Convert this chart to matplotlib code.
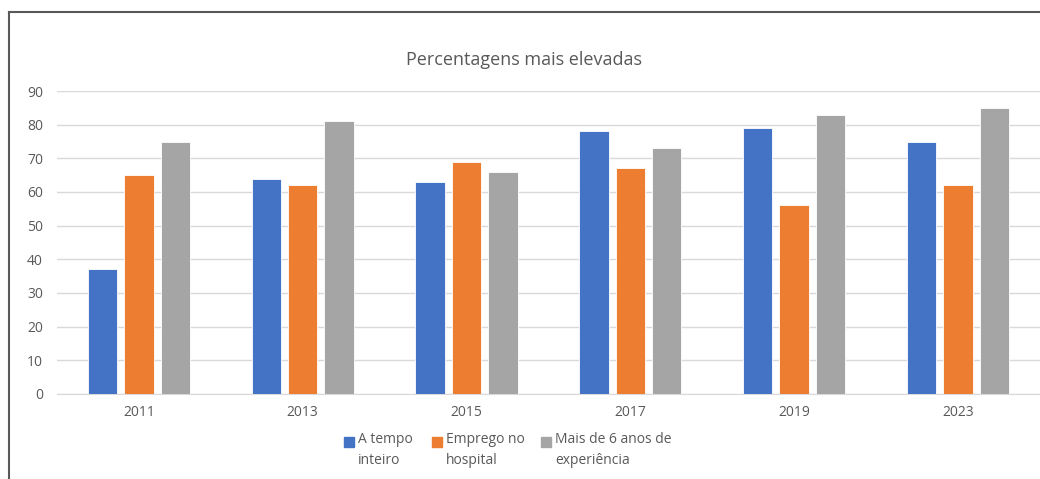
import numpy as np
import matplotlib.pyplot as plt
from matplotlib.lines import Line2D

# anos e percentagens
years = ['2011', '2013', '2015', '2017', '2019', '2023']
tempo_inteiro = [37, 64, 63, 78, 79, 75]
emprego_hospital = [65, 62, 69, 67, 56, 62]
mais_6_anos = [75, 81, 66, 73, 83, 85]
labels = ['A tempo\ninteiro', 'Emprego no\nhospital', 'Mais de 6 anos de\nexperiência']
colors = ['#4472C4', '#ED7D31', '#A5A5A5']

plt.rcParams['font.family'] = ['Open Sans', 'DejaVu Sans']

W, H = 1040, 479
fig = plt.figure(figsize=(W / 100, H / 100), dpi=100)
ax = fig.add_axes([0.0548, 0.1775, 0.945, 0.6325])

x = np.arange(len(years))
width = 0.18
step = 0.222
series = [tempo_inteiro, emprego_hospital, mais_6_anos]
for i, vals in enumerate(series):
    ax.bar(x + (i - 1) * step, vals, width, color=colors[i],
           edgecolor='white', linewidth=0.6, zorder=3, label=labels[i])

ax.set_xlim(-0.5, 5.5)
ax.set_ylim(0, 90)
ax.set_yticks(range(0, 91, 10))
ax.set_xticks(x)
ax.set_xticklabels(years)
ax.grid(axis='y', color='#D9D9D9', linewidth=1, zorder=0)
for s in ['top', 'right', 'left']:
    ax.spines[s].set_visible(False)
ax.spines['bottom'].set_color('#D9D9D9')
ax.tick_params(axis='both', length=0, colors='#595959', labelsize=10)
ax.tick_params(axis='x', pad=8)
ax.tick_params(axis='y', pad=10)

fig.text(0.504, 0.875, 'Percentagens mais elevadas', ha='center', va='center',
         fontsize=13, color='#595959')

# legenda desenhada a mao (texto em duas linhas, quadrado alinhado com a primeira)
leg_x = [349, 437, 546]
leg_y = 442
for lx, lab, c in zip(leg_x, labels, colors):
    fig.add_artist(Line2D([lx / W], [1 - leg_y / H], marker='s', markersize=7,
                          linestyle='', color=c, transform=fig.transFigure))
    fig.text((lx + 9) / W, 1 - (leg_y - 10) / H, lab, ha='left', va='top',
             fontsize=10, color='#595959', linespacing=1.5)

# moldura do grafico
fig.add_artist(Line2D([0.009, 0.009], [0, 0.975], color='#595959', linewidth=1.5,
                      transform=fig.transFigure))
fig.add_artist(Line2D([0.009, 1.0], [0.975, 0.975], color='#595959', linewidth=1.5,
                      transform=fig.transFigure))

fig.savefig('out.png', dpi=100)
